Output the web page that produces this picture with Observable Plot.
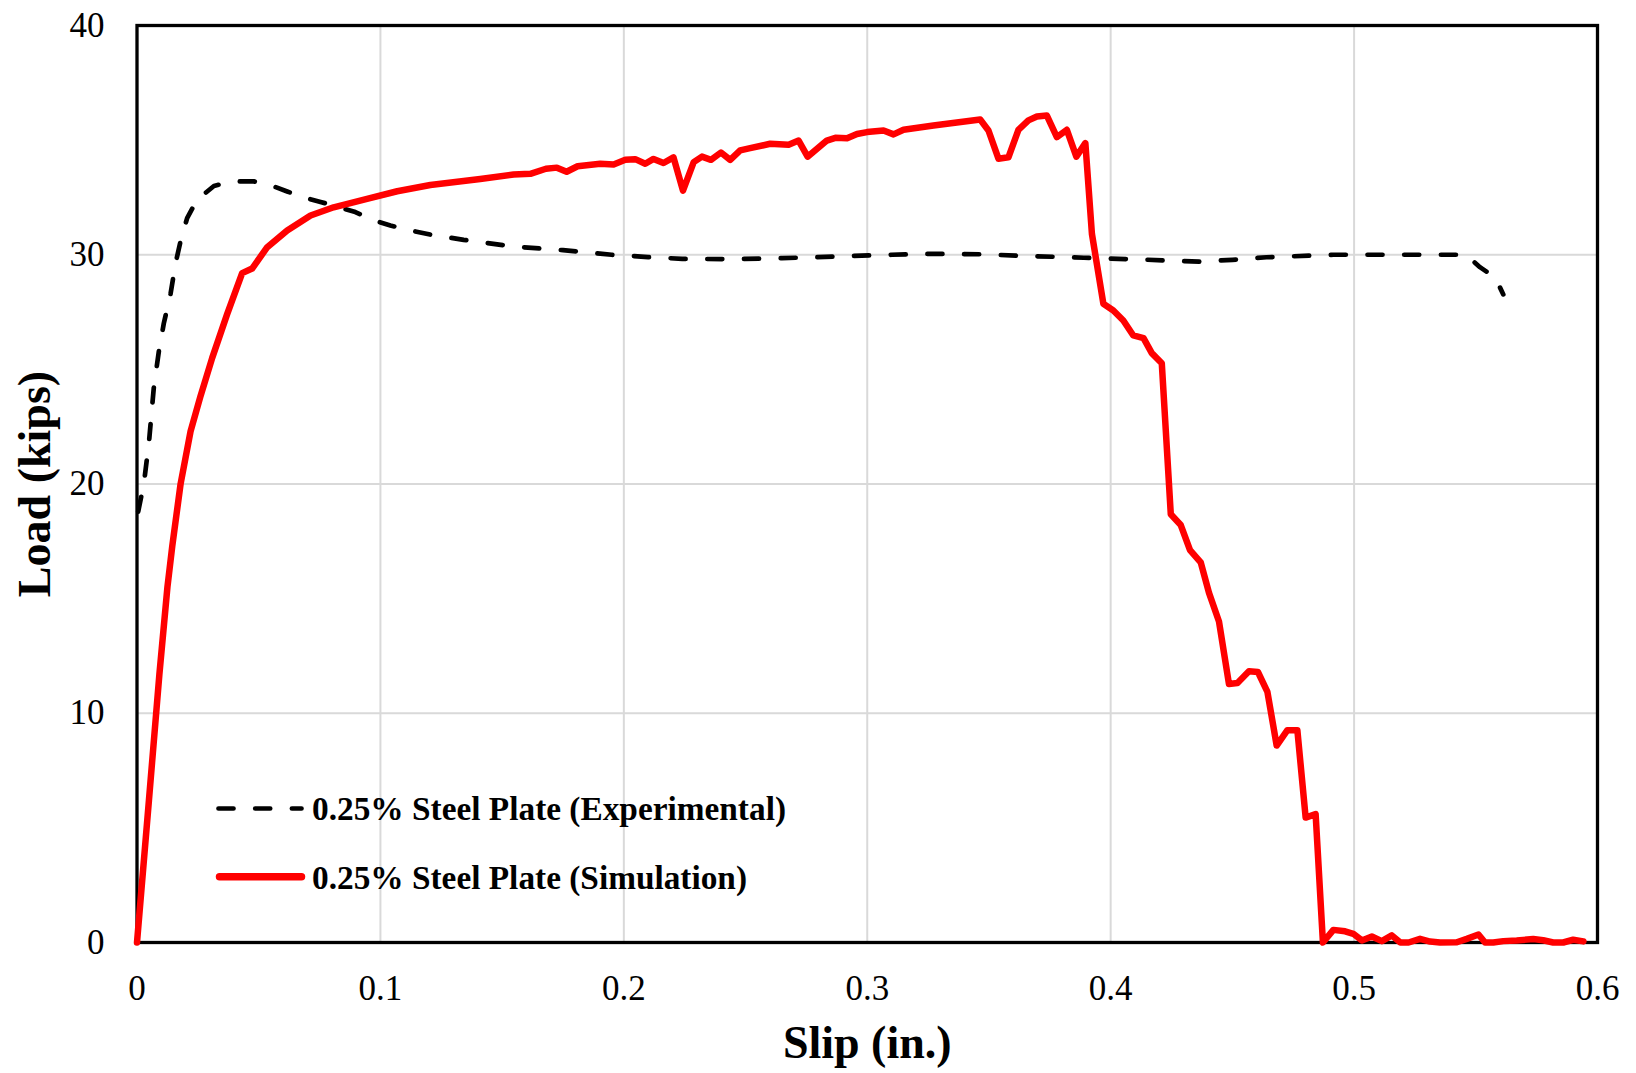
<!DOCTYPE html>
<html>
<head>
<meta charset="utf-8">
<script src="https://cdn.jsdelivr.net/npm/d3@7"></script>
<script src="https://cdn.jsdelivr.net/npm/@observablehq/plot@0.6"></script>
<style>
  html, body { margin: 0; padding: 0; background: #fff; }
  #wrap { position: relative; width: 1636px; height: 1073px; }
  #legend { position: absolute; left: 0; top: 0; pointer-events: none; }
</style>
</head>
<body>
<div id="wrap"></div>
<script>
// ---- data ----
const xTicks = [0, 0.1, 0.2, 0.3, 0.4, 0.5, 0.6];
const xTickLabels = ["0", "0.1", "0.2", "0.3", "0.4", "0.5", "0.6"];
const yTicks = [0, 10, 20, 30, 40];
const yTickLabels = ["0", "10", "20", "30", "40"];
const seriesNames = ["0.25% Steel Plate (Experimental)", "0.25% Steel Plate (Simulation)"];
const xTitle = "Slip (in.)";
const yTitle = "Load (kips)";

const expX = [0.0005, 0.0028, 0.0049, 0.0069, 0.009, 0.011, 0.0138, 0.0158, 0.0179, 0.0206, 0.0247, 0.0316,
  0.039, 0.048, 0.0545, 0.0617, 0.0685, 0.0754, 0.0808, 0.0897, 0.0972, 0.1041, 0.111, 0.1205, 0.1342,
  0.1547, 0.175, 0.195, 0.21, 0.224, 0.245, 0.265, 0.286, 0.31, 0.327, 0.348, 0.3615, 0.389, 0.41, 0.4368,
  0.45, 0.464, 0.4915, 0.512, 0.546, 0.5517, 0.558, 0.5613];
const expY = [18.8, 20.0, 21.8, 24.2, 25.8, 27.0, 28.3, 29.6, 30.6, 31.6, 32.4, 33.0,
  33.2, 33.2, 33.05, 32.76, 32.5, 32.3, 32.15, 31.86, 31.5, 31.28, 31.09, 30.88, 30.65,
  30.36, 30.2, 30.0, 29.9, 29.82, 29.81, 29.85, 29.92, 30.0, 30.04, 30.02, 29.96, 29.87, 29.8, 29.7,
  29.78, 29.89, 30.0, 30.0, 30.0, 29.46, 29.0, 28.27];

const simX = [0, 0.0049, 0.0092, 0.0125, 0.0145, 0.0179, 0.022, 0.026, 0.0309, 0.037, 0.0432, 0.0473,
  0.0535, 0.0617, 0.0713, 0.0808, 0.0945, 0.1069, 0.1205, 0.141, 0.1547, 0.1616, 0.168, 0.1725, 0.1765,
  0.181, 0.1903, 0.1958, 0.2006, 0.2047, 0.2088, 0.2122, 0.2163, 0.2204, 0.2243, 0.2287, 0.2321, 0.2358,
  0.2399, 0.2437, 0.2478, 0.2519, 0.2601, 0.2677, 0.2718, 0.2755, 0.2834, 0.2869, 0.2917, 0.2958, 0.2999,
  0.3067, 0.3108, 0.3149, 0.3272, 0.3464, 0.3498, 0.3539, 0.358, 0.3621, 0.3662, 0.3697, 0.3738, 0.3779,
  0.382, 0.3859, 0.3896, 0.3923, 0.397, 0.4011, 0.4052, 0.4093, 0.4135, 0.4169, 0.421, 0.4247, 0.4288,
  0.4326, 0.437, 0.4404, 0.4445, 0.4486, 0.4521, 0.4568, 0.4605, 0.4644, 0.4682, 0.4726, 0.4767, 0.4801,
  0.4842, 0.4872, 0.4915, 0.4963, 0.4997, 0.5032, 0.5073, 0.5114, 0.5155, 0.519, 0.5224, 0.5271, 0.5312,
  0.5353, 0.5422, 0.5463, 0.5511, 0.5538, 0.5572, 0.5613, 0.5668, 0.5736, 0.5777, 0.5818, 0.5859, 0.59, 0.5942];
const simY = [0, 6.2, 11.7, 15.5, 17.3, 20.0, 22.3, 23.8, 25.5, 27.4, 29.2, 29.4,
  30.33, 31.06, 31.71, 32.07, 32.44, 32.77, 33.04, 33.3, 33.5, 33.53, 33.75, 33.8, 33.62,
  33.86, 33.97, 33.94, 34.14, 34.17, 33.97, 34.18, 34.0, 34.25, 32.8, 34.04, 34.28, 34.14,
  34.46, 34.14, 34.55, 34.65, 34.84, 34.8, 34.98, 34.28, 34.98, 35.1, 35.08, 35.27, 35.35,
  35.42, 35.25, 35.45, 35.64, 35.9, 35.42, 34.19, 34.25, 35.45, 35.86, 36.03, 36.07, 35.13,
  35.45, 34.28, 34.87, 30.91, 27.86, 27.57, 27.13, 26.48, 26.36, 25.71, 25.27, 18.68, 18.21,
  17.12, 16.58, 15.25, 14.0, 11.28, 11.32, 11.83, 11.8, 10.93, 8.59, 9.26, 9.26, 5.45,
  5.6, 0, 0.55, 0.49, 0.38, 0.09, 0.26, 0.06, 0.31, 0, 0, 0.16, 0.04,
  0, 0.01, 0.16, 0.35, 0, 0, 0.06, 0.09, 0.15, 0.1, 0, 0, 0.12, 0.05];

// ---- build tables ----
const exp = expX.map((x, i) => ({x, y: expY[i]}));
const sim = simX.map((x, i) => ({x, y: simY[i]}));
const gridXv = xTicks.filter(d => d > 0 && d < 0.6);
const gridYv = yTicks.filter(d => d > 0 && d < 40);

const FONT = "'Liberation Serif', 'Times New Roman', Times, serif";

const chart = Plot.plot({
  width: 1636,
  height: 1073,
  marginLeft: 136.5,
  marginRight: 39,
  marginTop: 25,
  marginBottom: 131,
  x: {domain: [0, 0.6]},
  y: {domain: [0, 40]},
  style: {fontFamily: FONT, fontSize: "35px", color: "black", background: "white", overflow: "visible"},
  marks: [
    Plot.gridX(gridXv, {stroke: "#d9d9d9", strokeOpacity: 1, strokeWidth: 2}),
    Plot.gridY(gridYv, {stroke: "#d9d9d9", strokeOpacity: 1, strokeWidth: 2}),
    Plot.axisX(xTicks, {tickSize: 0, tickPadding: 33, fontSize: 35, tickFormat: (d, i) => xTickLabels[i], label: null}),
    Plot.axisY(yTicks, {tickSize: 0, tickPadding: 32.5, fontSize: 35, tickFormat: (d, i) => yTickLabels[i], label: null}),
    Plot.frame({stroke: "black", strokeWidth: 3.3}),
    Plot.line(exp, {x: "x", y: "y", stroke: "black", strokeWidth: 4.7, strokeDasharray: "15,21.7", strokeLinecap: "round", strokeLinejoin: "round"}),
    Plot.line(sim, {x: "x", y: "y", stroke: "#ff0000", strokeWidth: 6.5, strokeLinecap: "round", strokeLinejoin: "round"}),
    Plot.text([xTitle], {text: d => d, frameAnchor: "bottom", textAnchor: "middle", lineAnchor: "middle", dy: 101, fontSize: 46, fontWeight: "bold", fill: "black"}),
    Plot.text([yTitle], {text: d => d, frameAnchor: "left", textAnchor: "middle", lineAnchor: "middle", rotate: -90, dx: -102.2, fontSize: 46, fontWeight: "bold", fill: "black"})
  ]
});

const wrap = document.getElementById("wrap");
wrap.appendChild(chart);

// ---- legend overlay ----
const ns = "http://www.w3.org/2000/svg";
const leg = document.createElementNS(ns, "svg");
leg.setAttribute("id", "legend");
leg.setAttribute("width", 1636);
leg.setAttribute("height", 1073);
const legendRows = [
  {name: seriesNames[0], stroke: "black", width: 4.7, dash: "15,21.7", y: 808.5, base: 820, len: 474},
  {name: seriesNames[1], stroke: "#ff0000", width: 7.5, dash: null, y: 876.7, base: 888.5, len: 435}
];
legendRows.forEach(r => {
  const l = document.createElementNS(ns, "line");
  l.setAttribute("x1", r.dash ? 218.5 : 219.5);
  l.setAttribute("x2", 301.5);
  l.setAttribute("y1", r.y);
  l.setAttribute("y2", r.y);
  l.setAttribute("stroke", r.stroke);
  l.setAttribute("stroke-width", r.width);
  l.setAttribute("stroke-linecap", "round");
  if (r.dash) l.setAttribute("stroke-dasharray", r.dash);
  leg.appendChild(l);
  const t = document.createElementNS(ns, "text");
  t.setAttribute("x", 312);
  t.setAttribute("y", r.base);
  t.setAttribute("font-family", FONT);
  t.setAttribute("font-size", 34.5);
  t.setAttribute("font-weight", "bold");
  t.setAttribute("fill", "black");
  t.setAttribute("textLength", r.len);
  t.setAttribute("lengthAdjust", "spacingAndGlyphs");
  t.textContent = r.name;
  leg.appendChild(t);
});
wrap.appendChild(leg);
</script>
</body>
</html>
